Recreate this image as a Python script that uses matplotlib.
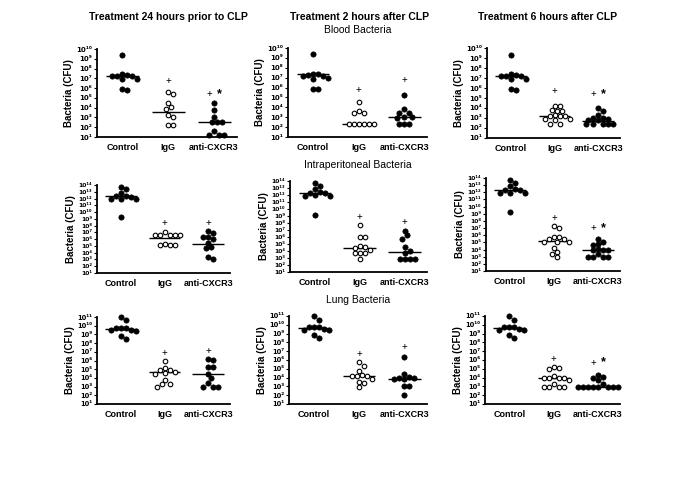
import matplotlib.pyplot as plt
import numpy as np

plt.rcParams['font.family'] = ['Liberation Sans', 'DejaVu Sans']

groups = ['Control', 'IgG', 'anti-CXCR3']
col_titles = ['Treatment 24 hours prior to CLP', 'Treatment 2 hours after CLP',
              'Treatment 6 hours after CLP']
row_titles = ['Blood Bacteria', 'Intraperitoneal Bacteria', 'Lung Bacteria']
row_top_decade = [10, 14, 11]

# all values are log10(CFU)
# the control groups are the same in every column of a row
blood_control = [9.35, 7.4, 7.35, 7.25, 7.2, 7.2, 6.95, 6.9, 5.9, 5.85]
perit_control = [13.7, 13.35, 12.85, 12.4, 12.35, 12.3, 11.95, 11.9, 11.9, 9.2]
lung_control = [10.95, 10.6, 9.75, 9.7, 9.75, 9.5, 9.45, 9.4, 8.85, 8.5]

blood_24_igg = [5.65, 5.4, 4.5, 4.05, 3.85, 3.25, 3.0, 2.2, 2.2]
blood_24_anti = [4.45, 3.75, 3.0, 2.55, 2.55, 2.55, 1.6, 1.25, 1.25, 1.25]
blood_2_igg = [4.55, 3.6, 3.45, 3.45, 2.35, 2.35, 2.35, 2.35, 2.35, 2.35]
blood_2_anti = [5.25, 3.8, 3.45, 3.4, 3.0, 3.0, 2.95, 2.3, 2.3, 2.3]
blood_6_igg = [4.25, 4.2, 3.8, 3.75, 3.75, 3.3, 3.25, 3.2, 3.25, 2.95, 2.8, 2.9, 2.4, 2.4]
blood_6_anti = [4.05, 3.75, 3.3, 3.0, 2.95, 3.0, 2.85, 2.8, 2.4, 2.4, 2.4, 2.4, 2.4]

perit_24_igg = [7.05, 6.6, 6.55, 6.6, 6.55, 6.6, 5.3, 5.1, 5.1, 5.1]
perit_24_anti = [7.15, 6.95, 6.3, 6.3, 6.05, 5.45, 4.85, 4.75, 3.3, 3.05]
perit_2_igg = [7.65, 6.0, 6.0, 4.6, 4.7, 4.45, 4.2, 3.7, 3.75, 3.65, 2.9]
perit_2_anti = [6.85, 6.25, 5.75, 4.55, 4.0, 3.7, 2.9, 2.9, 2.9, 2.9]
perit_6_igg = [7.3, 7.0, 5.7, 5.5, 5.7, 5.5, 5.0, 5.05, 5.1, 4.2, 3.6, 3.4, 2.9]
perit_6_anti = [5.5, 5.0, 4.75, 4.7, 4.05, 4.0, 4.0, 4.0, 3.35, 2.9, 2.9, 2.9, 2.9]

lung_24_igg = [5.95, 4.9, 4.95, 4.7, 5.15, 4.45, 4.6, 3.8, 3.35, 3.3, 2.95]
lung_24_anti = [6.2, 6.05, 5.2, 5.2, 4.5, 4.0, 3.4, 2.95, 2.95, 2.95]
lung_2_igg = [5.75, 5.3, 4.75, 4.25, 4.2, 4.2, 4.15, 3.8, 3.5, 3.35, 2.95]
lung_2_anti = [6.3, 4.4, 4.0, 4.1, 3.9, 3.85, 3.8, 3.05, 3.05, 2.0]
lung_6_igg = [5.2, 5.1, 4.95, 4.0, 4.0, 3.9, 4.0, 4.15, 3.75, 3.3, 2.95, 2.95, 2.95, 2.95]
lung_6_anti = [4.35, 4.1, 3.9, 3.75, 3.3, 2.97, 2.97, 2.97, 2.97, 2.97, 2.97, 2.97, 2.97]

# median lines as drawn (control, IgG, anti-CXCR3)
medians = [
    [[7.2, 3.6, 2.55], [7.35, 2.35, 3.0], [7.2, 3.25, 2.75]],
    [[12.35, 6.2, 5.3], [12.35, 4.45, 3.85], [12.35, 5.2, 3.95]],
    [[9.65, 4.65, 4.4], [9.65, 4.2, 3.85], [9.65, 3.9, 2.97]],
]
# height of the "+" signs (IgG, anti-CXCR3) and whether a "*" follows
plus_level = [
    [[6.7, 5.4], [5.75, 6.75], [5.7, 5.4]],
    [[8.45, 8.45], [8.85, 8.15], [8.4, 7.0]],
    [[6.85, 7.1], [6.7, 7.45], [6.15, 5.7]],
]
star = [[True, False, True], [False, False, True], [False, False, True]]

panels = [
    [(blood_control, blood_24_igg, blood_24_anti),
     (blood_control, blood_2_igg, blood_2_anti),
     (blood_control, blood_6_igg, blood_6_anti)],
    [(perit_control, perit_24_igg, perit_24_anti),
     (perit_control, perit_2_igg, perit_2_anti),
     (perit_control, perit_6_igg, perit_6_anti)],
    [(lung_control, lung_24_igg, lung_24_anti),
     (lung_control, lung_2_igg, lung_2_anti),
     (lung_control, lung_6_igg, lung_6_anti)],
]

# axes boxes in pixels: left, right, top, bottom
W, H = 685, 484
boxes = [
    [(97, 237, 49, 137), (288, 427, 48, 137), (487, 620, 48, 138)],
    [(97, 230, 185, 273), (290, 427, 181, 272), (486, 620, 178, 271)],
    [(97, 230, 317, 404), (289, 427, 316, 404), (485, 620, 316, 404)],
]
tick_size = [5.0, 4.3, 4.8]
XMIN, XMAX = -0.55, 2.5
DOT = 5.0  # dot diameter in px
SUP = str.maketrans('0123456789', '⁰¹²³⁴⁵⁶⁷⁸⁹')


def swarm(vals, px_dec, px_unit):
    # simple dot-plot spread: push dots sideways until they no longer overlap
    vals = np.asarray(vals, dtype=float)
    placed = []
    offs = np.zeros(len(vals))
    steps = [0.0]
    for k in range(1, 20):
        steps += [k * DOT / 2, -k * DOT / 2]
    for i in np.argsort(-vals, kind='stable'):
        y = vals[i] * px_dec
        for s in steps:
            if all((s - px) ** 2 + (y - py) ** 2 >= (DOT * 0.95) ** 2 for px, py in placed):
                break
        placed.append((s, y))
        offs[i] = s / px_unit
    return offs


fig = plt.figure(figsize=(6.85, 4.84), dpi=100)

for r in range(3):
    top_dec = row_top_decade[r]
    for c in range(3):
        L, R, T, B = boxes[r][c]
        ax = fig.add_axes([L / W, 1 - B / H, (R - L) / W, (B - T) / H])
        px_dec = (B - T) / (top_dec - 1)
        px_unit = (R - L) / (XMAX - XMIN)
        for g, vals in enumerate(panels[r][c]):
            xs = g + swarm(vals, px_dec, px_unit)
            ys = 10.0 ** np.asarray(vals)
            if g == 1:
                ax.plot(xs, ys, 'o', ms=3.3, mfc='white', mec='black', mew=0.8,
                        ls='none', zorder=3, clip_on=False)
            else:
                ax.plot(xs, ys, 'o', ms=3.8, mfc='black', mec='black', mew=0.5,
                        ls='none', zorder=3, clip_on=False)
            ax.hlines(10.0 ** medians[r][c][g], g - 0.36, g + 0.36, color='black',
                      lw=1.0, zorder=2)
        for g in (1, 2):
            y = 10.0 ** plus_level[r][c][g - 1]
            if g == 2 and star[r][c]:
                ax.text(g - 0.1, y, '+', ha='center', va='center', fontsize=7)
                ax.text(g + 0.12, y, '*', ha='center', va='center', fontsize=9,
                        fontweight='bold')
            else:
                ax.text(g, y, '+', ha='center', va='center', fontsize=7)

        ax.set_yscale('log')
        ax.set_ylim(10.0, 10.0 ** top_dec)
        ax.set_xlim(XMIN, XMAX)
        decs = np.arange(1, top_dec + 1)
        ax.set_yticks(10.0 ** decs)
        ax.set_yticklabels(['10' + str(d).translate(SUP) for d in decs],
                           fontsize=tick_size[r], fontweight='bold',
                           family=['DejaVu Sans'])
        ax.minorticks_off()
        ax.set_xticks([0, 1, 2])
        ax.set_xticklabels(groups, fontsize=6.5, fontweight='bold')
        ax.tick_params(axis='x', length=0, pad=4)
        ax.tick_params(axis='y', length=2.5, width=0.8, pad=1)
        for side in ('top', 'right'):
            ax.spines[side].set_visible(False)
        for side in ('left', 'bottom'):
            ax.spines[side].set_linewidth(1.3)
        ax.set_ylabel('Bacteria (CFU)', fontsize=7, fontweight='bold', labelpad=1.5)

# column and row headings
col_centers = [168, 360, 548]
for c in range(3):
    fig.text(col_centers[c] / W, 1 - 17 / H, col_titles[c], ha='center', va='center',
             fontsize=7.5, fontweight='bold')
row_label_y = [30, 165, 300]
for r in range(3):
    fig.text(358 / W, 1 - row_label_y[r] / H, row_titles[r], ha='center', va='center',
             fontsize=7.5)

fig.savefig('out.png', dpi=100)
